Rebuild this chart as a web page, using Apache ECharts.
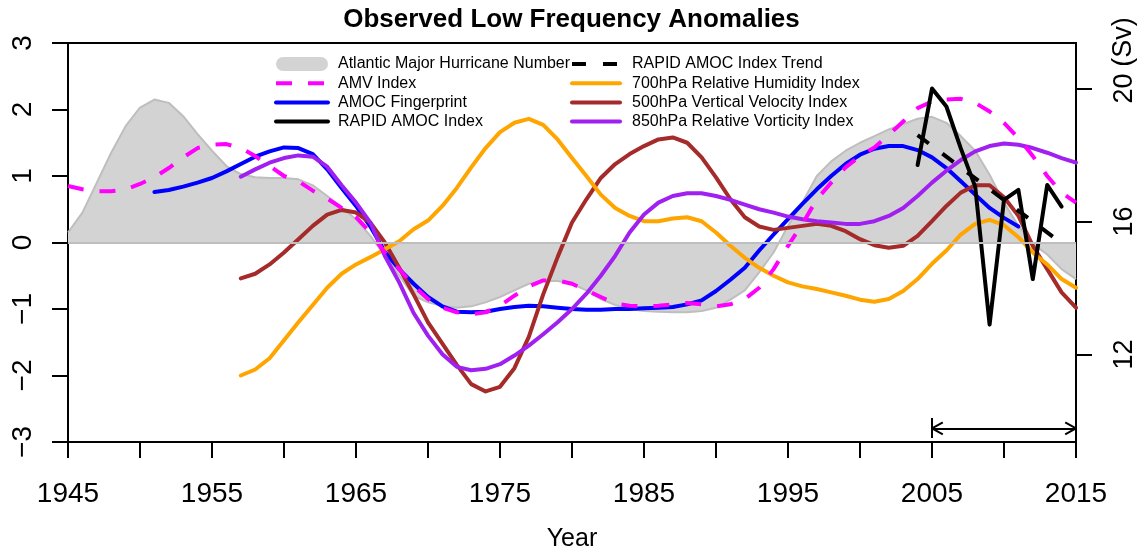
<!DOCTYPE html>
<html>
<head>
<meta charset="utf-8">
<script src="https://cdn.jsdelivr.net/npm/echarts/dist/echarts.min.js"></script>
<style>
html,body{margin:0;padding:0;background:#fff;}
#chart{width:1143px;height:554px;}
</style>
</head>
<body>
<div id="chart"></div>
<script>
// ---------- DATA ----------
const yearsFull = [1945,1946,1947,1948,1949,1950,1951,1952,1953,1954,1955,1956,1957,1958,1959,1960,1961,1962,1963,1964,1965,1966,1967,1968,1969,1970,1971,1972,1973,1974,1975,1976,1977,1978,1979,1980,1981,1982,1983,1984,1985,1986,1987,1988,1989,1990,1991,1992,1993,1994,1995,1996,1997,1998,1999,2000,2001,2002,2003,2004,2005,2006,2007,2008,2009,2010,2011,2012,2013,2014,2015];
const yearsAmoc = [1951,1952,1953,1954,1955,1956,1957,1958,1959,1960,1961,1962,1963,1964,1965,1966,1967,1968,1969,1970,1971,1972,1973,1974,1975,1976,1977,1978,1979,1980,1981,1982,1983,1984,1985,1986,1987,1988,1989,1990,1991,1992,1993,1994,1995,1996,1997,1998,1999,2000,2001,2002,2003,2004,2005,2006,2007,2008,2009,2010,2011];
const yearsReanalysis = [1957,1958,1959,1960,1961,1962,1963,1964,1965,1966,1967,1968,1969,1970,1971,1972,1973,1974,1975,1976,1977,1978,1979,1980,1981,1982,1983,1984,1985,1986,1987,1988,1989,1990,1991,1992,1993,1994,1995,1996,1997,1998,1999,2000,2001,2002,2003,2004,2005,2006,2007,2008,2009,2010,2011,2012,2013,2014,2015];
const yearsRapid = [2004,2005,2006,2007,2008,2009,2010,2011,2012,2013,2014];
const yearsTrend = [2004,2014];

const hurricaneNumber = [0.15,0.45,0.9,1.35,1.75,2.03,2.15,2.1,1.9,1.63,1.38,1.15,1.03,0.98,0.97,0.97,0.95,0.86,0.7,0.53,0.35,0.1,-0.2,-0.5,-0.8,-0.9,-0.95,-0.98,-0.96,-0.9,-0.82,-0.72,-0.62,-0.58,-0.58,-0.62,-0.72,-0.85,-0.94,-1.0,-1.03,-1.04,-1.05,-1.05,-1.03,-0.98,-0.86,-0.72,-0.45,-0.15,0.25,0.6,1.0,1.22,1.38,1.5,1.6,1.7,1.78,1.86,1.89,1.8,1.6,1.38,1.02,0.6,0.25,-0.02,-0.18,-0.4,-0.55];
const amvIndex = [0.85,0.8,0.77,0.77,0.8,0.88,0.98,1.12,1.28,1.42,1.47,1.48,1.42,1.3,1.15,1.0,0.92,0.78,0.66,0.52,0.38,0.15,-0.15,-0.4,-0.65,-0.85,-0.98,-1.05,-1.08,-1.05,-0.95,-0.8,-0.66,-0.57,-0.57,-0.62,-0.72,-0.82,-0.92,-0.95,-0.96,-0.95,-0.93,-0.91,-0.93,-0.96,-0.93,-0.85,-0.68,-0.4,-0.05,0.28,0.65,0.9,1.13,1.3,1.43,1.62,1.82,2.02,2.12,2.15,2.16,2.1,1.97,1.8,1.57,1.3,1.0,0.75,0.6];
const amocFingerprint = [0.76,0.79,0.84,0.9,0.97,1.07,1.18,1.29,1.37,1.43,1.42,1.33,1.1,0.82,0.55,0.24,-0.14,-0.4,-0.62,-0.82,-0.96,-1.04,-1.05,-1.04,-1.0,-0.97,-0.95,-0.96,-0.98,-1.0,-1.01,-1.01,-1.0,-1.0,-0.99,-0.98,-0.97,-0.93,-0.87,-0.73,-0.56,-0.38,-0.12,0.12,0.35,0.58,0.8,1.0,1.18,1.32,1.41,1.45,1.45,1.39,1.28,1.12,0.92,0.72,0.52,0.37,0.24];
const humidity700 = [-2.0,-1.91,-1.74,-1.47,-1.2,-0.94,-0.68,-0.47,-0.33,-0.22,-0.1,0.02,0.2,0.33,0.55,0.82,1.13,1.42,1.66,1.8,1.86,1.77,1.55,1.27,1.0,0.72,0.52,0.4,0.32,0.32,0.36,0.38,0.32,0.15,-0.05,-0.23,-0.38,-0.5,-0.6,-0.66,-0.7,-0.75,-0.8,-0.86,-0.89,-0.85,-0.73,-0.55,-0.32,-0.12,0.12,0.28,0.34,0.26,0.08,-0.15,-0.33,-0.55,-0.68];
const velocity500 = [-0.54,-0.47,-0.33,-0.15,0.05,0.25,0.42,0.49,0.45,0.3,0.0,-0.38,-0.78,-1.2,-1.52,-1.84,-2.13,-2.24,-2.17,-1.89,-1.42,-0.78,-0.22,0.3,0.65,0.97,1.18,1.33,1.45,1.55,1.58,1.5,1.28,0.98,0.65,0.38,0.24,0.19,0.22,0.25,0.28,0.25,0.17,0.05,-0.04,-0.08,-0.05,0.1,0.32,0.55,0.75,0.86,0.86,0.68,0.4,-0.05,-0.4,-0.75,-0.98];
const vorticity850 = [0.99,1.1,1.2,1.27,1.31,1.29,1.14,0.86,0.6,0.3,-0.2,-0.6,-1.06,-1.4,-1.68,-1.87,-1.92,-1.9,-1.83,-1.7,-1.55,-1.38,-1.2,-1.0,-0.77,-0.5,-0.2,0.15,0.42,0.6,0.7,0.74,0.74,0.7,0.64,0.57,0.5,0.45,0.39,0.35,0.32,0.3,0.28,0.28,0.32,0.4,0.52,0.7,0.9,1.08,1.24,1.37,1.45,1.49,1.47,1.42,1.35,1.27,1.2];
const rapidAmocSv = [17.7,20.0,19.46,18.2,17.05,12.9,16.65,16.95,14.27,17.1,16.45];
const rapidTrendSv = [18.6,15.35];

const xTickLabels = [1945,1955,1965,1975,1985,1995,2005,2015];
const leftTicks = [-3,-2,-1,0,1,2,3];
const rightTicks = [12,16,20];

// ---------- CHART ----------
const FONT = '"Liberation Sans", Arial, Helvetica, sans-serif';
const pair = (xs, ys) => xs.map((x, i) => [x, ys[i]]);
const black = '#000';
const axisLineStyle = {color: black, width: 2};

// annotation: double arrow 2005-2015 (left-axis units)
const arrowY = -2.795;
const ann = (a, b, style) => [{coord: a, lineStyle: style}, {coord: b}];
const arrowStyle = {color: black, width: 2, type: 'solid'};
const annotations = [
  ann([1945, 0], [2015, 0], {color: '#bebebe', width: 2, type: 'solid'}),
  ann([2005, arrowY], [2015, arrowY], arrowStyle),
  ann([2005, -2.64], [2005, -2.94], arrowStyle),
  ann([2005, arrowY], [2005.75, arrowY + 0.09], arrowStyle),
  ann([2005, arrowY], [2005.75, arrowY - 0.09], arrowStyle),
  ann([2015, arrowY], [2014.25, arrowY + 0.09], arrowStyle),
  ann([2015, arrowY], [2014.25, arrowY - 0.09], arrowStyle)
];

function lineSeries(name, xs, ys, color, extra) {
  return Object.assign({
    name: name, type: 'line', data: pair(xs, ys), symbol: 'none', smooth: false,
    lineStyle: {color: color, width: 4, cap: 'round', join: 'round'},
    itemStyle: {color: color},
    emphasis: {disabled: true}, silent: true
  }, extra || {});
}

const pill = 'path://M7,0L45,0A7,7,0,0,1,45,14L7,14A7,7,0,0,1,7,0Z';

const option = {
  animation: false,
  backgroundColor: '#fff',
  textStyle: {fontFamily: FONT},
  title: {
    text: 'Observed Low Frequency Anomalies', left: 'center', top: 2,
    textStyle: {fontFamily: FONT, fontSize: 26, fontWeight: 'bold', color: black}
  },
  grid: {left: 68, right: 67, top: 43, bottom: 112, containLabel: false, outerBoundsMode: 'none',
    show: true, borderColor: black, borderWidth: 2, backgroundColor: 'transparent'},
  legend: [
    {
      orient: 'vertical', left: 274, top: 56, itemWidth: 52, itemHeight: 14, itemGap: 3.2,
      selectedMode: false, padding: 0,
      textStyle: {fontFamily: FONT, fontSize: 16, color: black, lineHeight: 14, padding: [0, 0, 0, 5]},
      lineStyle: {width: 4}, itemStyle: {opacity: 0},
      data: [
        {name: 'Atlantic Major Hurricane Number', icon: pill, itemStyle: {color: '#d3d3d3', opacity: 1, borderWidth: 0}},
        'AMV Index', 'AMOC Fingerprint', 'RAPID AMOC Index'
      ]
    },
    {
      orient: 'vertical', left: 570, top: 56, itemWidth: 48, itemHeight: 14, itemGap: 3.2,
      selectedMode: false, padding: 0,
      textStyle: {fontFamily: FONT, fontSize: 16, color: black, lineHeight: 14, padding: [0, 0, 0, 7]},
      lineStyle: {width: 4}, itemStyle: {opacity: 0},
      data: ['RAPID AMOC Index Trend', '700hPa Relative Humidity Index', '500hPa Vertical Velocity Index', '850hPa Relative Vorticity Index']
    }
  ],
  xAxis: {
    type: 'value', min: 1945, max: 2015, interval: 5, position: 'bottom',
    name: 'Year', nameLocation: 'middle', nameGap: 85,
    nameTextStyle: {fontFamily: FONT, fontSize: 25, color: black},
    axisLine: {show: true, onZero: false, lineStyle: axisLineStyle},
    axisTick: {show: true, length: 16, lineStyle: axisLineStyle},
    axisLabel: {customValues: xTickLabels, fontFamily: FONT, fontSize: 28, color: black, margin: 38, formatter: v => String(v)},
    splitLine: {show: false}
  },
  yAxis: [
    {
      type: 'value', min: -3, max: 3, interval: 1, position: 'left',
      axisLine: {show: true, onZero: false, lineStyle: axisLineStyle},
      axisTick: {show: true, length: 16, lineStyle: axisLineStyle, customValues: leftTicks},
      axisLabel: {customValues: leftTicks, rotate: 90, fontFamily: FONT, fontSize: 28, color: black, margin: 31,
        formatter: v => String(v).replace('-', '\u2212')},
      splitLine: {show: false}
    },
    {
      type: 'value', min: 9.37, max: 21.37, position: 'right', alignTicks: false,
      axisLine: {show: true, onZero: false, lineStyle: axisLineStyle},
      axisTick: {show: true, length: 16, lineStyle: axisLineStyle, customValues: rightTicks},
      axisLabel: {customValues: rightTicks, rotate: 90, fontFamily: FONT, fontSize: 27, color: black, margin: 35,
        formatter: v => String(v)},
      splitLine: {show: false}
    }
  ],
  graphic: [
    {type: 'text', x: 1124, y: 42, rotation: Math.PI / 2, silent: true,
     style: {text: '(Sv)', fontFamily: FONT, fontSize: 27, fill: black, align: 'center', verticalAlign: 'middle'}}
  ],
  series: [
    {
      name: 'Atlantic Major Hurricane Number', type: 'line', data: pair(yearsFull, hurricaneNumber),
      symbol: 'none', smooth: false, silent: true, z: 1,
      lineStyle: {color: '#bebebe', width: 2, join: 'round'},
      itemStyle: {color: '#d3d3d3'},
      areaStyle: {color: '#d3d3d3', opacity: 1},
      emphasis: {disabled: true},
      markLine: {silent: true, symbol: 'none', label: {show: false}, animation: false,
        lineStyle: {type: 'solid'}, emphasis: {disabled: true}, data: annotations}
    },
    lineSeries('AMOC Fingerprint', yearsAmoc, amocFingerprint, '#0000ff', {z: 2}),
    lineSeries('500hPa Vertical Velocity Index', yearsReanalysis, velocity500, '#a52a2a', {z: 2}),
    lineSeries('700hPa Relative Humidity Index', yearsReanalysis, humidity700, '#ffa500', {z: 2}),
    lineSeries('850hPa Relative Vorticity Index', yearsReanalysis, vorticity850, '#a020f0', {z: 2}),
    lineSeries('AMV Index', yearsFull, amvIndex, '#ff00ff', {z: 2,
      lineStyle: {color: '#ff00ff', width: 4, type: [16, 16], cap: 'butt', join: 'round'}}),
    lineSeries('RAPID AMOC Index Trend', yearsTrend, rapidTrendSv, black, {z: 3, yAxisIndex: 1,
      lineStyle: {color: black, width: 4, type: [14, 17], cap: 'butt'}}),
    lineSeries('RAPID AMOC Index', yearsRapid, rapidAmocSv, black, {z: 3, yAxisIndex: 1,
      lineStyle: {color: black, width: 4, cap: 'round', join: 'round'}})
  ]
};

const chart = echarts.init(document.getElementById('chart'), null, {renderer: 'canvas'});
chart.setOption(option);
</script>
</body>
</html>
